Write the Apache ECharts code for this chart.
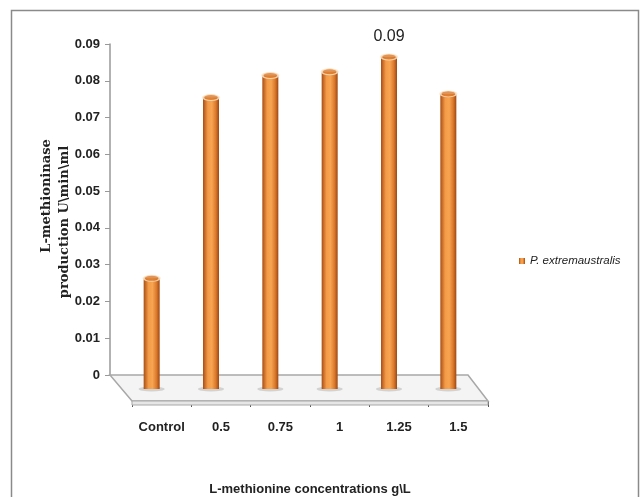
<!DOCTYPE html>
<html>
<head>
<meta charset="utf-8">
<script src="https://cdn.jsdelivr.net/npm/echarts@6/dist/echarts.min.js"></script>
<style>html,body{margin:0;padding:0;background:#fff}#c{width:640px;height:497px}</style>
</head>
<body>
<div id="c"></div>
<script>
const categories = ['Control', '0.5', '0.75', '1', '1.25', '1.5'];
const values = [0.030, 0.079, 0.085, 0.086, 0.090, 0.080];
const labelledIndex = 4;
const yTicks = { min: 0, max: 0.09, interval: 0.01 };
const seriesName = 'P. extremaustralis';

const chart = echarts.init(document.getElementById('c'), null, { renderer: 'canvas' });
const narrow = 'Liberation Sans Narrow, Liberation Sans, sans-serif';
const tickFont = { fontFamily: narrow, fontWeight: 'bold', fontSize: 13, color: '#222' };

const barColor = new echarts.graphic.LinearGradient(0, 0, 1, 0, [
  { offset: 0, color: '#a94e14' },
  { offset: 0.3, color: '#f39a48' },
  { offset: 0.55, color: '#f7a552' },
  { offset: 0.8, color: '#dc7a2c' },
  { offset: 1, color: '#9e4712' }
]);

const option = {
  animation: false,
  backgroundColor: '#fff',
  legend: {
    data: [{ name: seriesName, icon: 'rect' }],
    left: 514, top: 250, itemWidth: 6, itemHeight: 6, itemGap: 4,
    textStyle: { fontFamily: narrow, fontStyle: 'italic', fontSize: 11.5, color: '#222' }
  },
  graphic: [
    { type: 'rect', shape: { x: 11.5, y: 10.5, width: 627, height: 520 }, style: { fill: null, stroke: '#8a8a8a', lineWidth: 1.5 }, z: 0 },
    { type: 'polygon', shape: { points: [[110, 375], [468, 375], [488, 401], [132, 401]] }, style: { fill: '#f4f4f4', stroke: '#a8a8a8', lineWidth: 1.5 }, z: 1 },
    { type: 'polygon', shape: { points: [[132, 401], [488, 401], [488, 405], [132, 405]] }, style: { fill: '#e6e6e6', stroke: '#a8a8a8', lineWidth: 1 }, z: 1 },
    { type: 'text', x: 47, y: 196, rotation: Math.PI / 2, style: { text: 'L-methioninase', fontFamily: 'DejaVu Serif, serif', fontWeight: 'bold', fontSize: 13, fill: '#222', align: 'center', verticalAlign: 'middle' }, z: 5 },
    { type: 'text', x: 65, y: 222, rotation: Math.PI / 2, style: { text: 'production U\\min\\ml', fontFamily: 'DejaVu Serif, serif', fontWeight: 'bold', fontSize: 13, fill: '#222', align: 'center', verticalAlign: 'middle' }, z: 5 }
  ],
  grid: [
    { left: 110, top: 44, width: 358, bottom: 122 },
    { left: 122, top: 57, width: 356, bottom: 108 },
    { left: 132, top: 380, width: 356, bottom: 96 }
  ],
  xAxis: [
    { gridIndex: 0, type: 'category', data: categories, show: false },
    { gridIndex: 1, type: 'category', data: categories, show: false },
    {
      gridIndex: 2, type: 'category', data: categories, position: 'bottom',
      axisLine: { show: false },
      axisTick: { show: true, length: 6, lineStyle: { color: '#555' }, alignWithLabel: false },
      axisLabel: Object.assign({ margin: 20, interval: 0 }, tickFont),
      name: 'L-methionine concentrations g\\L', nameLocation: 'middle', nameGap: 82,
      nameTextStyle: { fontFamily: narrow, fontWeight: 'bold', fontSize: 13, color: '#222' }
    }
  ],
  yAxis: [
    {
      gridIndex: 0, type: 'value', min: yTicks.min, max: yTicks.max, interval: yTicks.interval,
      axisLine: { show: true, lineStyle: { color: '#999', width: 1.5 } },
      axisTick: { show: true, length: 5, lineStyle: { color: '#999' } },
      splitLine: { show: false },
      axisLabel: Object.assign({ margin: 10, formatter: v => (v === 0 ? '0' : v.toFixed(2)) }, tickFont)
    },
    { gridIndex: 1, type: 'value', min: yTicks.min, max: yTicks.max, show: false, splitLine: { show: false } },
    { gridIndex: 2, type: 'value', show: false, splitLine: { show: false } }
  ],
  series: [
    {
      name: seriesName, type: 'bar', xAxisIndex: 1, yAxisIndex: 1, barWidth: 16, z: 3,
      itemStyle: { color: barColor },
      data: values.map((v, i) => i === labelledIndex ? {
        value: v,
        label: { show: true, position: 'top', distance: 12, formatter: p => p.value.toFixed(2), fontFamily: narrow, fontSize: 16, color: '#222' }
      } : v)
    },
    {
      name: 'cap', type: 'scatter', xAxisIndex: 1, yAxisIndex: 1, symbol: 'circle', symbolSize: [16, 6], z: 4,
      itemStyle: { color: '#d9792d', borderColor: '#fde6c8', borderWidth: 1.5 },
      silent: true, data: values
    },
    {
      name: 'shadow', type: 'scatter', xAxisIndex: 1, yAxisIndex: 1, symbol: 'circle', symbolSize: [26, 5], z: 2,
      itemStyle: { color: 'rgba(150,150,150,0.45)' }, silent: true,
      data: values.map(() => 0)
    }
  ]
};
chart.setOption(option);
</script>
</body>
</html>
